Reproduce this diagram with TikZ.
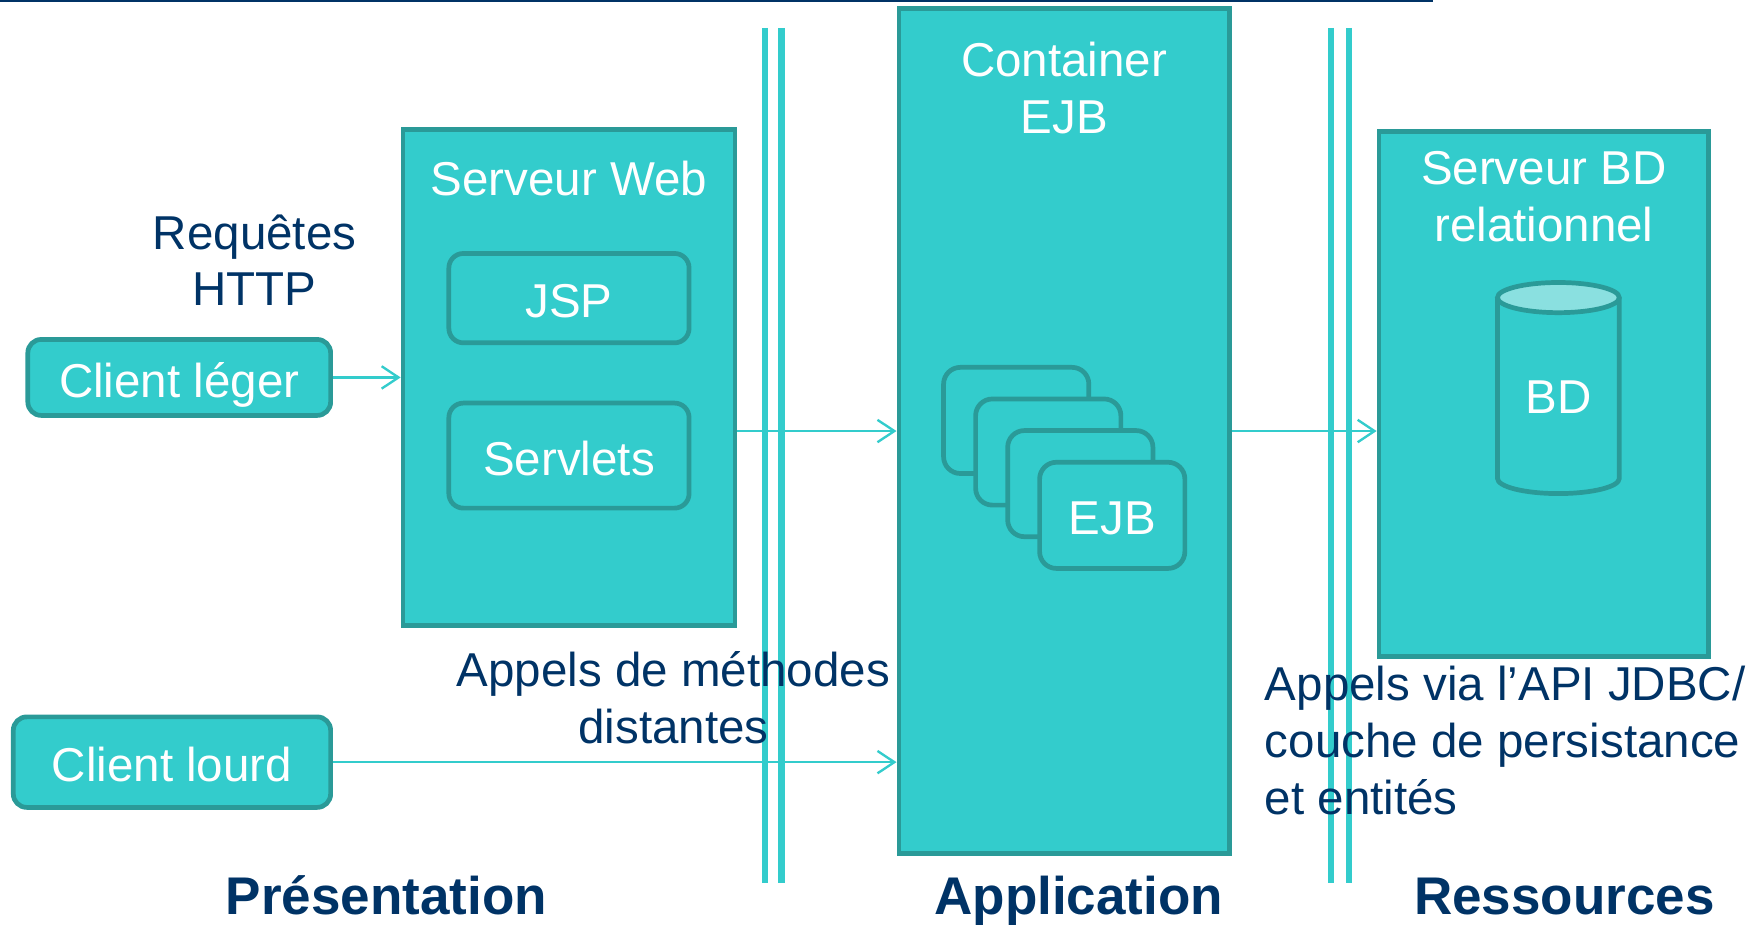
\documentclass[tikz,border=0pt]{standalone}
\usepackage{fontspec}
\setmainfont{Liberation Sans}
\usepackage{tikz}
\usetikzlibrary{arrows.meta}
\definecolor{ejbcyan}{HTML}{33CCCC}
\definecolor{ejbteal}{HTML}{2A9A98}
\definecolor{ejbnavy}{HTML}{003366}
\definecolor{ejblight}{HTML}{8AE0E0}

\begin{document}
\begin{tikzpicture}[x=0.01cm,y=-0.01cm,
    box/.style={draw=ejbteal,fill=ejbcyan,line width=1.2pt,inner sep=0pt,
      text=white,font=\fontsize{12.1}{14.5}\selectfont,
      text height=10pt,text depth=0pt},
    rbox/.style={box,rounded corners=0.13cm},
    title/.style={text=white,font=\fontsize{12.1}{14.5}\selectfont,
      align=center,inner sep=0pt},
    note/.style={text=ejbnavy,font=\fontsize{12.1}{14.5}\selectfont,inner sep=0pt},
    layer/.style={text=ejbnavy,font=\bfseries\fontsize{13.5}{16}\selectfont,
      inner sep=0pt,anchor=base},
    link/.style={ejbcyan,line width=0.6pt,-{Straight Barb[length=4.3pt,width=5.7pt]}},
    wall/.style={ejbcyan,line width=1.7pt}]

    \useasboundingbox (0,0) rectangle (1568,828);

    \draw[ejbnavy,line width=0.6pt] (0,1) -- (1283,1);

    \draw[wall] (685,25) -- (685,791);
    \draw[wall] (700,25) -- (700,791);
    \draw[wall] (1192,25) -- (1192,791);
    \draw[wall] (1208,25) -- (1208,791);

    \node[box,minimum width=2.97cm,minimum height=4.44cm] (web) at (509.5,338) {};
    \node[title] (webtitle) at (509.5,160) {Serveur Web};
    \node[rbox,minimum width=2.15cm,minimum height=0.8cm] (jsp) at (509.5,267) {JSP};
    \node[rbox,minimum width=2.15cm,minimum height=0.94cm] (servlets) at (509.5,408) {Servlets};

    \node[rbox,minimum width=2.71cm,minimum height=0.68cm,rounded corners=0.12cm]
    (leger) at (160.5,338) {Client léger};
    \node[rbox,minimum width=2.84cm,minimum height=0.81cm,rounded corners=0.12cm]
    (lourd) at (154,682.5) {Client lourd};
    \node[note,align=center] (http) at (228,233) {Requêtes\\HTTP};

    \node[box,minimum width=2.96cm,minimum height=7.56cm] (ejbc) at (953,386) {};
    \node[title] (ejbctitle) at (953,78.5) {Container\\EJB};
    \foreach \i in {0,1,2}
      \node[rbox,minimum width=1.3cm,minimum height=0.95cm,rounded corners=0.15cm]
      (ejb\i) at (910+28.7*\i,376.5+28.3*\i) {};
    \node[rbox,minimum width=1.3cm,minimum height=0.95cm,rounded corners=0.15cm]
    (ejb) at (996,461.5) {EJB};

    \node[box,minimum width=2.95cm,minimum height=4.7cm] (bds) at (1382.5,353) {};
    \node[title] (bdstitle) at (1382.5,176) {Serveur BD\\relationnel};
    \filldraw[draw=ejbteal,fill=ejbcyan,line width=1.2pt]
    (1341,266.5) -- (1341,428.5)
    arc[start angle=180,end angle=360,x radius=0.545cm,y radius=0.135cm]
    -- (1450,266.5);
    \filldraw[draw=ejbteal,fill=ejblight,line width=1.2pt]
    (1395.5,266.5) ellipse[x radius=0.545cm,y radius=0.135cm];
    \node[title] (bd) at (1395.5,356) {BD};

    \node[note,align=center] (rmi) at (603,624.5) {Appels de méthodes\\distantes};
    \node[note,align=left,anchor=west] (jdbc) at (1132,663)
    {Appels via l’API JDBC/\\couche de persistance\\et entités};

    \node[layer] (pres) at (346,819) {Présentation};
    \node[layer] (app) at (966,819) {Application};
    \node[layer] (res) at (1401,819) {Ressources};

    \draw[link] (leger.east) -- (web.west);
    \draw[link] (web.east |- ejbc.west) -- (ejbc.west);
    \draw[link] (ejbc.east) -- (ejbc.east -| bds.west);
    \draw[link] (lourd.east) -- (lourd.east -| ejbc.west);

  \end{tikzpicture}
\end{document}
